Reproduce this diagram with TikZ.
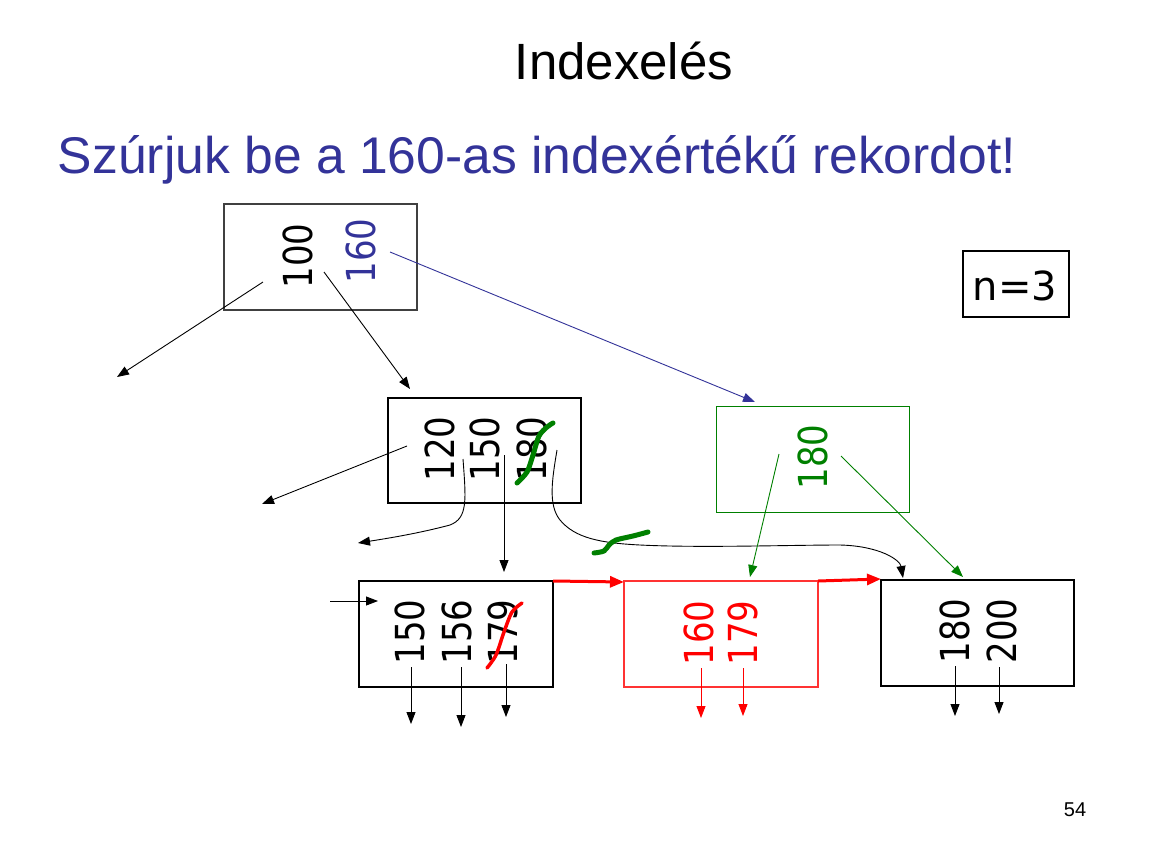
\documentclass[tikz,border=0pt]{standalone}
\usepackage{fontspec}
\setmainfont{Liberation Sans}
\newfontfamily\numfont{DejaVu Sans}
\usetikzlibrary{arrows.meta}
\definecolor{ttblue}{RGB}{51,51,153}
\definecolor{ttgreen}{RGB}{0,128,0}
\definecolor{ttred}{RGB}{255,0,0}
\definecolor{ttgray}{RGB}{64,64,64}
\newcommand\rnum[1]{\scalebox{0.85}[1]{#1}}
\begin{document}
\begin{tikzpicture}[x=1pt,y=-1pt,
  box/.style={draw=black,line width=1.3pt,inner sep=0pt,outer sep=0pt,anchor=north west},
  num/.style={rotate=90,inner sep=0pt,font=\numfont\fontsize{40}{44}\selectfont},
  arr/.style={line width=0.9pt,-{Triangle[length=12pt,width=9pt]}},
  redarr/.style={ttred,line width=3pt,-{Triangle[length=14pt,width=11pt]}},
  scrib/.style={line width=5pt,line cap=round,line join=round}
]
\useasboundingbox (0,0) rectangle (1154,865);
\fill[white] (0,0) rectangle (1154,865);

% titles
\node[anchor=base,inner sep=0pt,font=\fontsize{51}{60}\selectfont] (title) at (624,79) {Indexelés};
\node[anchor=base,inner sep=0pt,text=ttblue,font=\fontsize{51.6}{60}\selectfont] (sub) at (537,173) {Szúrjuk be a 160-as indexértékű rekordot!};
\node[inner sep=0pt,font=\fontsize{20}{24}\selectfont] (page) at (1075,810) {54};

% n=3
\node[box,draw=black,line width=1.8pt,minimum width=106pt,minimum height=66pt] (nbox) at (963,251) {};
\node[inner sep=0pt,font=\numfont\fontsize{40}{44}\selectfont] (ntext) at (1015,286) {n=3};

% boxes
\node[box,draw=ttgray,line width=1.5pt,minimum width=193pt,minimum height=106pt] (top) at (224,204) {};
\node[box,minimum width=193pt,minimum height=105pt] (mid) at (388,398) {};
\node[box,draw=ttgreen,line width=1pt,minimum width=193pt,minimum height=106pt] (gbox) at (716,406) {};
\node[box,minimum width=194pt,minimum height=106pt] (b1) at (359,581) {};
\node[box,draw=ttred!80,line width=1.1pt,minimum width=194pt,minimum height=106pt] (b2) at (624,581) {};
\node[box,minimum width=193pt,minimum height=106pt] (b3) at (881,580) {};

% numbers
\node[num] (n100) at (298,256) {\rnum{100}};
\node[num,text=ttblue] (n160) at (361,251) {\rnum{160}};
\node[num] (n120) at (440,449) {\rnum{120}};
\node[num] (n150m) at (485,449) {\rnum{150}};
\node[num] (n180m) at (532,449) {\rnum{180}};
\node[num,text=ttgreen] (n180g) at (813,457) {\rnum{180}};
\node[num] (n150) at (410,632) {\rnum{150}};
\node[num] (n156) at (457,632) {\rnum{156}};
\node[num] (n179) at (503,632) {\rnum{179}};
\node[num,text=ttred] (n160r) at (699,633) {\rnum{160}};
\node[num,text=ttred] (n179r) at (743,633) {\rnum{179}};
\node[num] (n180) at (955,631) {\rnum{180}};
\node[num] (n200) at (1002,631) {\rnum{200}};

% coordinates
\coordinate (t1s) at (263,282); \coordinate (t1e) at (117,377);
\coordinate (t2s) at (324,272); \coordinate (t2e) at (410,389);
\coordinate (t3s) at (390,252); \coordinate (t3e) at (755,402);
\coordinate (m1s) at (407,446); \coordinate (m1e) at (262,504);
\coordinate (m2s) at (463,459); \coordinate (m2e) at (358,543);
\coordinate (m3s) at (504,455); \coordinate (m3e) at (504,572);
\coordinate (m4s) at (557,450); \coordinate (m4e) at (903,578);
\coordinate (g1s) at (779,454); \coordinate (g1e) at (750,577);
\coordinate (g2s) at (841,456); \coordinate (g2e) at (963,577);
\coordinate (ins) at (330,601); \coordinate (ine) at (378,601);
\coordinate (r1s) at (553,581); \coordinate (r1e) at (624,582);
\coordinate (r2s) at (818,581); \coordinate (r2e) at (881,579);
\coordinate (d1s) at (411,667); \coordinate (d1e) at (411,724);
\coordinate (d2s) at (461,667); \coordinate (d2e) at (461,727);
\coordinate (d3s) at (506,664); \coordinate (d3e) at (506,717);
\coordinate (d4s) at (701,668); \coordinate (d4e) at (701,718);
\coordinate (d5s) at (743,668); \coordinate (d5e) at (743,716);
\coordinate (d6s) at (955,666); \coordinate (d6e) at (955,716);
\coordinate (d7s) at (999,667); \coordinate (d7e) at (999,714);

% connectors
\draw[arr] (t1s) -- (t1e);
\draw[arr] (t2s) -- (t2e);
\draw[arr,ttblue] (t3s) -- (t3e);
\draw[arr] (m1s) -- (m1e);
\draw[arr] (m2s) .. controls (466,500) and (468,518) .. (450,525)
  .. controls (420,533) and (390,538) .. (m2e);
\draw[arr] (m3s) -- (m3e);
\draw[arr] (m4s) .. controls (552,480) and (548,505) .. (560,520)
  .. controls (575,538) and (600,543) .. (640,545)
  .. controls (700,548) and (790,545) .. (840,545)
  .. controls (880,546) and (900,560) .. (m4e);
\draw[arr,ttgreen] (g1s) -- (g1e);
\draw[arr,ttgreen] (g2s) -- (g2e);
\draw[arr] (ins) -- (ine);
\draw[redarr] (r1s) -- (r1e);
\draw[redarr] (r2s) -- (r2e);
\draw[arr] (d1s) -- (d1e);
\draw[arr] (d2s) -- (d2e);
\draw[arr] (d3s) -- (d3e);
\draw[arr,ttred] (d4s) -- (d4e);
\draw[arr,ttred] (d5s) -- (d5e);
\draw[arr] (d6s) -- (d6e);
\draw[arr] (d7s) -- (d7e);

% scribbles
\draw[scrib,ttgreen] plot[smooth] coordinates {(517,483) (527,472) (533,455) (539,436) (547,427) (553,423)};
\draw[scrib,ttgreen] plot[smooth] coordinates {(594,553) (604,551) (609,545) (616,540) (633,536) (648,532)};
\draw[scrib,ttred,line width=3.5pt] plot[smooth] coordinates {(487,668) (496,655) (504,632) (512,612) (522,603)};
\end{tikzpicture}
\end{document}
